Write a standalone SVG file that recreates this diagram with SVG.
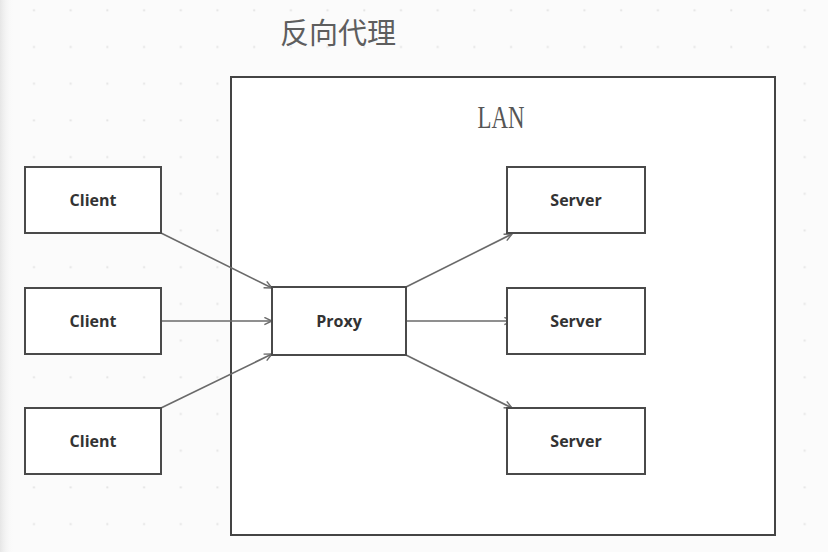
<svg xmlns="http://www.w3.org/2000/svg" width="828" height="552" viewBox="0 0 828 552">
<defs>
<style>
.box{fill:#fff;stroke:#4a4a4a;stroke-width:2}
.lan{fill:#fff;stroke:#444;stroke-width:2}
.lbl{font-family:"Open Sans","Noto Sans",sans-serif;font-weight:bold;font-size:16px;fill:#333;text-anchor:middle;dominant-baseline:central}
.conn{stroke:#6a6a6a;stroke-width:1.6;fill:none;marker-end:url(#arr)}
</style>
<marker id="arr" viewBox="0 0 10 10" refX="9.5" refY="5" markerWidth="9" markerHeight="9" markerUnits="userSpaceOnUse" orient="auto">
<path d="M1,1 L9.5,5 L1,9" fill="none" stroke="#6a6a6a" stroke-width="1.6"/>
</marker>
<pattern id="dots" x="0" y="0" width="36.7" height="36.7" patternUnits="userSpaceOnUse">
<rect x="33" y="46" width="2" height="2" fill="#e4e4e4"/>
<rect x="33" y="9.3" width="2" height="2" fill="#e4e4e4"/>
</pattern>
<linearGradient id="edge" x1="0" x2="1" y1="0" y2="0">
<stop offset="0" stop-color="#e6e6e6"/>
<stop offset="1" stop-color="#fbfbfb" stop-opacity="0"/>
</linearGradient>
</defs>
<rect width="828" height="552" fill="#fbfbfb"/>
<rect width="828" height="552" fill="url(#dots)"/>
<rect width="14" height="552" fill="url(#edge)"/>
<text x="338" y="44" font-family="Noto Sans CJK SC, sans-serif" font-size="29" fill="#5e5e5e" text-anchor="middle">反向代理</text>
<g id="lan">
<rect class="lan" x="231" y="77" width="544" height="458"/>
<text x="501" y="128" font-family="Liberation Serif, serif" font-size="31" fill="#555" text-anchor="middle" textLength="47" lengthAdjust="spacingAndGlyphs">LAN</text>
</g>
<g id="connectors">
<line class="conn" x1="161" y1="233" x2="272" y2="288"/>
<line class="conn" x1="161" y1="321" x2="272" y2="321"/>
<line class="conn" x1="161" y1="408" x2="272" y2="354"/>
<line class="conn" x1="406" y1="287" x2="512" y2="234"/>
<line class="conn" x1="406" y1="321" x2="512" y2="321"/>
<line class="conn" x1="406" y1="355" x2="512" y2="408"/>
</g>
<g id="client1"><rect class="box" x="25" y="167" width="136" height="66"/><text class="lbl" x="93" y="200">Client</text></g>
<g id="client2"><rect class="box" x="25" y="288" width="136" height="66"/><text class="lbl" x="93" y="321">Client</text></g>
<g id="client3"><rect class="box" x="25" y="408" width="136" height="66"/><text class="lbl" x="93" y="441">Client</text></g>
<g id="proxy"><rect class="box" x="272" y="287" width="134" height="68"/><text class="lbl" x="339" y="321">Proxy</text></g>
<g id="server1"><rect class="box" x="507" y="167" width="138" height="66"/><text class="lbl" x="576" y="200">Server</text></g>
<g id="server2"><rect class="box" x="507" y="288" width="138" height="66"/><text class="lbl" x="576" y="321">Server</text></g>
<g id="server3"><rect class="box" x="507" y="408" width="138" height="66"/><text class="lbl" x="576" y="441">Server</text></g>
</svg>
